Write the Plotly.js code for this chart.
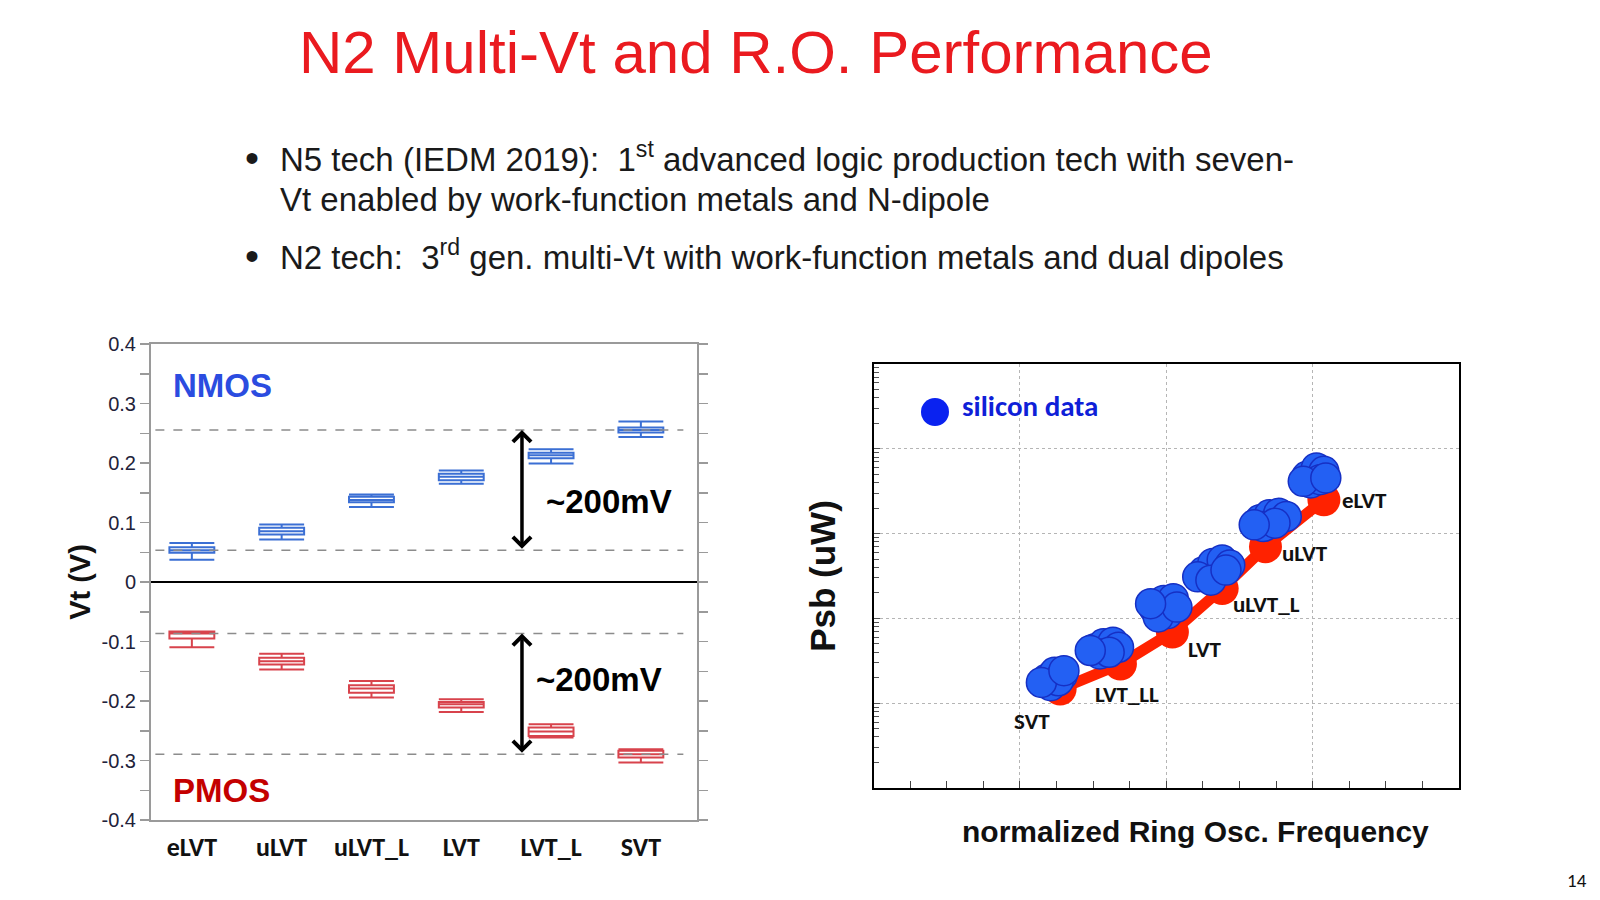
<!DOCTYPE html>
<html>
<head>
<meta charset="utf-8">
<script src="https://cdn.plot.ly/plotly-3.0.1.min.js"></script>
<style>html,body{margin:0;padding:0;background:#fff;}#chart{width:1600px;height:900px;}</style>
</head>
<body>
<div id="chart"></div>
<script>
// ---------- Left chart: Vt distribution per device flavour ----------
const categories = ['eLVT', 'uLVT', 'uLVT_L', 'LVT', 'LVT_L', 'SVT'];
const nmosLow  = [0.0376, 0.0713, 0.126, 0.165, 0.199, 0.2438];
const nmosQ1   = [0.049, 0.080, 0.134, 0.171, 0.208, 0.2511];
const nmosMed  = [0.0534, 0.0854, 0.138, 0.177, 0.213, 0.2556];
const nmosQ3   = [0.0584, 0.091, 0.1433, 0.182, 0.2174, 0.2596];
const nmosHigh = [0.0657, 0.0966, 0.147, 0.1876, 0.223, 0.2697];
const pmosHigh = [-0.083, -0.1207, -0.1665, -0.197, -0.239, -0.281];
const pmosQ3   = [-0.083, -0.1274, -0.1737, -0.2017, -0.2447, -0.2838];
const pmosMed  = [-0.0866, -0.133, -0.179, -0.2056, -0.2514, -0.2894];
const pmosQ1   = [-0.095, -0.1385, -0.186, -0.211, -0.2587, -0.295];
const pmosLow  = [-0.1095, -0.147, -0.194, -0.2184, -0.2615, -0.3034];
const vtTickVals = [0.4, 0.3, 0.2, 0.1, 0, -0.1, -0.2, -0.3, -0.4];
const vtTickText = ['0.4', '0.3', '0.2', '0.1', '0', '-0.1', '-0.2', '-0.3', '-0.4'];
const spreadLabel = '~200mV';

// ---------- Right chart: Psb vs normalized RO frequency ----------
const roLabels = ['SVT', 'LVT_LL', 'LVT', 'uLVT_L', 'uLVT', 'eLVT'];
const roFreq   = [1.275, 1.687, 2.042, 2.382, 2.678, 3.077];
const roPsb    = [14.7, 29.0, 68.9, 225, 701, 2506];
const siSVT_x    = [1.185, 1.237, 1.288, 1.211, 1.263, 1.147, 1.301];
const siSVT_y    = [19.3, 23.1, 21.1, 16.1, 18.4, 17.6, 24.2];
const siLVTLL_x  = [1.507, 1.571, 1.636, 1.674, 1.546, 1.610, 1.481];
const siLVTLL_y  = [43.6, 50.1, 52.4, 45.7, 38.1, 39.9, 41.8];
const siLVT_x    = [1.919, 1.983, 2.048, 2.009, 1.945, 2.073, 1.893];
const siLVT_y    = [130, 163, 171, 114, 104, 136, 149];
const siULVTL_x  = [2.254, 2.318, 2.382, 2.434, 2.215, 2.305, 2.408];
const siULVTL_y  = [354, 445, 488, 425, 309, 282, 371];
const siULVT_x   = [2.640, 2.704, 2.768, 2.820, 2.665, 2.743, 2.601];
const siULVT_y   = [1452, 1663, 1742, 1592, 1211, 1327, 1268];
const siELVT_x   = [2.961, 3.026, 3.077, 2.987, 3.051, 2.936, 3.090];
const siELVT_y   = [4742, 5957, 5433, 3954, 4329, 4138, 4529];
const siliconClusters = [
  [siSVT_x, siSVT_y], [siLVTLL_x, siLVTLL_y], [siLVT_x, siLVT_y],
  [siULVTL_x, siULVTL_y], [siULVT_x, siULVT_y], [siELVT_x, siELVT_y]
];
const siliconName = 'silicon data';
const xTitle2 = 'normalized Ring Osc. Frequency';

// ---------- styles ----------
const ARIAL = 'Liberation Sans, Arial, sans-serif';
const CALI = 'Carlito, Lato, Open Sans, sans-serif';
const NBLUE = '#3b6fd4';
const PRED = '#d8434c';
const SIBLUE = '#2360f3';

const traces = [];
traces.push({
  type: 'box', name: 'NMOS', x: categories, xaxis: 'x', yaxis: 'y',
  q1: nmosQ1, median: nmosMed, q3: nmosQ3, lowerfence: nmosLow, upperfence: nmosHigh,
  width: 0.5, whiskerwidth: 1, boxpoints: false,
  line: {color: NBLUE, width: 2}, fillcolor: 'rgba(255,255,255,0)', showlegend: false
});
traces.push({
  type: 'box', name: 'PMOS', x: categories, xaxis: 'x', yaxis: 'y',
  q1: pmosQ1, median: pmosMed, q3: pmosQ3, lowerfence: pmosLow, upperfence: pmosHigh,
  width: 0.5, whiskerwidth: 1, boxpoints: false,
  line: {color: PRED, width: 2}, fillcolor: 'rgba(255,255,255,0)', showlegend: false
});
traces.push({
  type: 'scatter', mode: 'lines+markers', x: roFreq, y: roPsb, xaxis: 'x2', yaxis: 'y2',
  line: {color: '#ff2200', width: 11}, marker: {color: '#ff2200', size: 33},
  showlegend: false, name: 'RO'
});
siliconClusters.forEach(function (c) {
  traces.push({
    type: 'scatter', mode: 'markers', x: c[0], y: c[1], xaxis: 'x2', yaxis: 'y2',
    name: siliconName, showlegend: false,
    marker: {color: SIBLUE, size: 30, line: {color: '#1630c4', width: 1.5}}
  });
});

const TXT = '#1a1a1a';
function slideText(text, x, y, size, extra) {
  return Object.assign({text: text, xref: 'paper', yref: 'paper', x: x, y: y,
    xanchor: 'left', yanchor: 'middle', showarrow: false,
    font: {family: ARIAL, size: size, color: TXT}}, extra || {});
}
const annotations = [
  slideText('N2 Multi-Vt and R.O. Performance', 756 / 1600, 1 - 53 / 900, 60,
    {xanchor: 'center', font: {family: ARIAL, size: 60, color: '#ea1a1f'}}),
  slideText('\u2022', 252 / 1600, 1 - 158 / 900, 40, {xanchor: 'center'}),
  slideText('N5 tech (IEDM 2019): \u00a01<sup>st</sup> advanced logic production tech with seven-',
    278 / 1600, 1 - 157 / 900, 33),
  slideText('Vt enabled by work-function metals and N-dipole', 278 / 1600, 1 - 199 / 900, 33),
  slideText('\u2022', 252 / 1600, 1 - 256 / 900, 40, {xanchor: 'center'}),
  slideText('N2 tech: \u00a03<sup>rd</sup> gen. multi-Vt with work-function metals and dual dipoles',
    278 / 1600, 1 - 255 / 900, 33),
  slideText('14', 1577 / 1600, 1 - 880 / 900, 19, {xanchor: 'center', font: {family: CALI, size: 19, color: '#111'}}),
  // left chart
  {text: 'NMOS', xref: 'x domain', yref: 'y domain', x: 0.037, y: 0.912, xanchor: 'left', yanchor: 'middle',
   showarrow: false, font: {family: ARIAL, size: 33, color: '#2b4ce0', weight: 'bold'}},
  {text: 'PMOS', xref: 'x domain', yref: 'y domain', x: 0.037, y: 0.061, xanchor: 'left', yanchor: 'middle',
   showarrow: false, font: {family: ARIAL, size: 33, color: '#c40000', weight: 'bold'}},
  {text: spreadLabel, xref: 'x', yref: 'y', x: 4.645, y: 0.1345, xanchor: 'center', yanchor: 'middle',
   showarrow: false, font: {family: ARIAL, size: 33, color: '#000', weight: 'bold'}},
  {text: spreadLabel, xref: 'x', yref: 'y', x: 4.534, y: -0.164, xanchor: 'center', yanchor: 'middle',
   showarrow: false, font: {family: ARIAL, size: 33, color: '#000', weight: 'bold'}},
  {text: '', xref: 'x', yref: 'y', axref: 'x', ayref: 'y', x: 3.676, y: nmosMed[5], ax: 3.676, ay: nmosMed[0],
   showarrow: true, arrowside: 'end+start', arrowhead: 4, arrowsize: 1, arrowwidth: 3.5, arrowcolor: '#000'},
  {text: '', xref: 'x', yref: 'y', axref: 'x', ayref: 'y', x: 3.676, y: pmosMed[0], ax: 3.676, ay: pmosMed[5],
   showarrow: true, arrowside: 'end+start', arrowhead: 4, arrowsize: 1, arrowwidth: 3.5, arrowcolor: '#000'},
  // right chart legend text and x title
  {text: siliconName, xref: 'paper', yref: 'paper', x: 960 / 1600, y: 1 - 406 / 900,
   xanchor: 'left', yanchor: 'middle', showarrow: false,
   font: {family: CALI, size: 29, color: '#0f1fd8', weight: 'bold'}},
  {text: xTitle2, xref: 'x2 domain', yref: 'paper', x: 0.5505, y: 1 - 831.5 / 900,
   xanchor: 'center', yanchor: 'middle', showarrow: false,
   font: {family: ARIAL, size: 30, color: '#111', weight: 'bold'}}
];
// right chart point labels
const labelShift = [[-28, -32], [7, -30], [33, -17], [44, -15], [40, -6], [41, 0]];
roLabels.forEach(function (lab, i) {
  annotations.push({
    text: lab, xref: 'x2', yref: 'y2', x: roFreq[i], y: Math.log10(roPsb[i]),
    xshift: labelShift[i][0], yshift: labelShift[i][1], showarrow: false,
    xanchor: 'center', yanchor: 'middle',
    font: {family: CALI, size: 23, color: '#111', weight: 'bold'}
  });
});

const dashLine = {color: '#8c8c8c', width: 1.5, dash: 'dash'};
const shapes = [
  {type: 'line', xref: 'x domain', yref: 'y', x0: 0.008, x1: 0.975, y0: nmosMed[5], y1: nmosMed[5], line: dashLine},
  {type: 'line', xref: 'x domain', yref: 'y', x0: 0.008, x1: 0.975, y0: nmosMed[0], y1: nmosMed[0], line: dashLine},
  {type: 'line', xref: 'x domain', yref: 'y', x0: 0.008, x1: 0.975, y0: pmosMed[0], y1: pmosMed[0], line: dashLine},
  {type: 'line', xref: 'x domain', yref: 'y', x0: 0.008, x1: 0.975, y0: pmosMed[5], y1: pmosMed[5], line: dashLine},
  // legend key for "silicon data"
  {type: 'circle', xref: 'paper', yref: 'paper', xsizemode: 'pixel', ysizemode: 'pixel',
   xanchor: 935 / 1600, yanchor: 1 - 412 / 900, x0: -14, x1: 14, y0: -14, y1: 14,
   fillcolor: '#0a22f0', line: {width: 0}}
];

const layout = {
  width: 1600, height: 900, margin: {l: 0, r: 0, t: 0, b: 0},
  paper_bgcolor: '#fff', plot_bgcolor: '#fff',
  font: {family: ARIAL, color: '#111'},
  boxmode: 'overlay',
  showlegend: false,
  xaxis: {
    domain: [151 / 1600, 697 / 1600], anchor: 'y', type: 'category', range: [-0.455, 5.625],
    showline: true, linecolor: '#9a9a9a', linewidth: 2, mirror: true, ticks: '',
    showgrid: false, zeroline: false, ticklabelstandoff: 3,
    tickfont: {family: CALI, size: 26, color: '#111', weight: 'bold'}
  },
  yaxis: {
    domain: [1 - 820 / 900, 1 - 344 / 900], anchor: 'x', range: [-0.4, 0.4],
    tickmode: 'array', tickvals: vtTickVals, ticktext: vtTickText,
    ticks: 'outside', ticklen: 9, tickwidth: 1.5, tickcolor: '#9a9a9a',
    minor: {dtick: 0.05, tick0: 0, ticks: 'outside', ticklen: 9, tickwidth: 1.5, tickcolor: '#9a9a9a', showgrid: false},
    showline: true, linecolor: '#9a9a9a', linewidth: 2, mirror: 'allticks',
    showgrid: false, zeroline: true, zerolinecolor: '#000', zerolinewidth: 2,
    tickfont: {family: ARIAL, size: 20, color: '#22223a'},
    title: {text: 'Vt (V)', font: {family: ARIAL, size: 29, color: '#111', weight: 'bold'}, standoff: 2}
  },
  xaxis2: {
    domain: [873.5 / 1600, 1459 / 1600], anchor: 'y2', range: [0, 4], tick0: 0, dtick: 1,
    showgrid: true, gridcolor: '#b5b5b5', griddash: 'dot', gridwidth: 1,
    showline: true, linecolor: '#000', linewidth: 2, mirror: true, zeroline: false,
    ticks: 'inside', ticklen: 7, tickcolor: '#444', showticklabels: false,
    minor: {dtick: 0.25, tick0: 0, ticks: 'inside', ticklen: 7, tickcolor: '#444', showgrid: false}
  },
  yaxis2: {
    domain: [1 - 788 / 900, 1 - 364 / 900], anchor: 'x2', type: 'log', range: [0, 5], dtick: 1,
    showgrid: true, gridcolor: '#b5b5b5', griddash: 'dot', gridwidth: 1,
    showline: true, linecolor: '#000', linewidth: 2, mirror: true, zeroline: false,
    ticks: 'inside', ticklen: 6, tickcolor: '#555', showticklabels: false,
    minor: {dtick: 'D1', ticks: 'inside', ticklen: 5, tickcolor: '#555', showgrid: false},
    title: {text: 'Psb (uW)', font: {family: ARIAL, size: 35, color: '#111', weight: 'bold'}, standoff: 25}
  },
  annotations: annotations,
  shapes: shapes
};

Plotly.newPlot('chart', traces, layout, {staticPlot: true, displayModeBar: false});
</script>
</body>
</html>
